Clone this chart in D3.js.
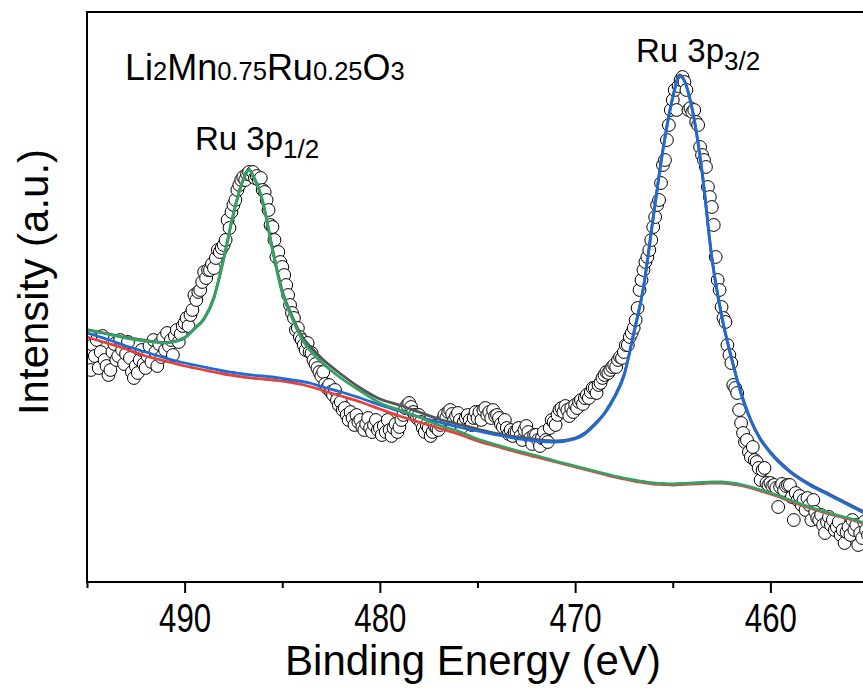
<!DOCTYPE html>
<html>
<head>
<meta charset="utf-8">
<script src="https://cdn.jsdelivr.net/npm/d3@7"></script>
<style>
    body { margin: 0; background: #fff; }
    svg { display: block; font-family: Arial, "Liberation Sans", sans-serif; }
</style>
</head>
<body>
<svg id="chart"></svg>
<script>
// Ru 3p scan, 495 -> 455 eV in 0.1 eV steps
const scanStart = 495.0;
const scanStep = 0.1;
const counts = [
    232, 220, 212, 237, 226, 242, 214, 230, 246, 222,
    216, 207, 212, 230, 238, 222, 226, 242, 232, 218,
    228, 240, 224, 210, 204, 216, 209, 222, 232, 218,
    214, 226, 236, 220, 242, 230, 216, 238, 225, 244,
    232, 249, 236, 242, 227, 246, 252, 240, 248, 256,
    259, 264, 256, 267, 272, 287, 282, 290, 292, 300,
    310, 304, 312, 312, 318, 314, 324, 332, 330, 334,
    337, 342, 362, 354, 370, 377, 382, 392, 397, 402,
    405, 402, 408, 410, 407, 410, 404, 406, 402, 404,
    392, 390, 382, 372, 357, 355, 342, 325, 330, 320,
    315, 307, 297, 287, 277, 269, 264, 252, 254, 245,
    242, 237, 232, 239, 230, 229, 222, 218, 214, 210,
    206, 210, 198, 194, 197, 190, 187, 192, 182, 177,
    180, 172, 174, 167, 162, 170, 164, 157, 167, 160,
    162, 155, 152, 158, 164, 154, 150, 157, 162, 152,
    154, 147, 156, 150, 162, 152, 146, 154, 158, 150,
    155, 162, 167, 174, 177, 179, 175, 170, 167, 164,
    167, 160, 154, 150, 157, 154, 146, 150, 156, 154,
    152, 157, 162, 167, 164, 170, 172, 168, 162, 166,
    169, 162, 155, 160, 164, 167, 162, 157, 164, 170,
    164, 170, 162, 172, 174, 167, 170, 164, 172, 166,
    167, 164, 158, 155, 162, 154, 148, 152, 146, 150,
    150, 154, 146, 142, 152, 156, 150, 144, 138, 147,
    147, 142, 136, 144, 150, 142, 140, 154, 162, 160,
    157, 167, 172, 174, 170, 176, 172, 166, 174, 170,
    177, 174, 180, 182, 178, 184, 187, 184, 190, 194,
    194, 189, 197, 199, 204, 207, 210, 209, 212, 215,
    217, 215, 222, 225, 224, 230, 237, 237, 245, 249,
    254, 262, 274, 292, 302, 312, 320, 325, 332, 342,
    355, 365, 377, 382, 399, 417, 422, 442, 457, 472,
    482, 492, 472, 496, 502, 505, 500, 492, 472, 474,
    470, 472, 460, 457, 435, 427, 422, 415, 395, 385,
    375, 357, 325, 302, 292, 275, 264, 260, 237, 227,
    219, 197, 194, 189, 172, 159, 149, 140, 142, 130,
    125, 135, 122, 120, 114, 102, 112, 114, 99, 97,
    99, 96, 97, 94, 75, 95, 98, 92, 96, 97,
    97, 85, 62, 89, 82, 86, 77, 82, 72, 84,
    77, 62, 82, 70, 64, 62, 67, 57, 49, 60,
    65, 57, 62, 52, 55, 60, 47, 52, 39, 50,
    55, 47, 62, 52, 57, 37, 49, 44, 60, 52,
    47
];

// fitted curves, read at these energies
const fitEnergy = [
    495, 494, 493, 492, 491, 490, 489.5, 489, 488.5, 488, 487.5, 487,
    486.7, 486.5, 486, 485.5, 485, 484.5, 484, 483.5, 483,
    482, 481, 480, 479, 478, 477, 476, 475, 474, 473, 472, 471, 470,
    469.5, 469, 468.5, 468, 467.5, 467, 466.5, 466, 465.5, 465,
    464.65, 464.5, 464, 463.5, 463, 462.5, 462, 461.5, 461, 460.5, 460,
    459, 458, 457, 456, 455
];
const background = [
    245, 239, 233, 226, 221, 216, 214, 212, 210, 208, 206.5, 205,
    204.3, 203.8, 203, 202, 201, 199.5, 197.5, 195, 192,
    186, 180, 173, 166, 160, 154, 148, 141, 135.5, 130, 125, 120, 115,
    112.5, 110, 107.5, 105, 103, 101, 99.5, 98, 97.5, 97,
    97.5, 97.5, 98, 98.5, 99, 99, 98, 96.5, 94, 91, 88,
    81, 74, 68, 63, 57
];
const fit3p32 = [
    249, 243, 236, 230, 224, 219, 217, 215, 213, 211, 209.5, 208,
    207.3, 206.8, 206, 205, 203.5, 202, 200.5, 198.5, 195.5,
    190, 184, 177, 171, 165, 160, 155, 151, 147, 143.5, 141, 140, 143,
    148, 157, 168, 184, 206, 248, 294, 364, 432, 484,
    506, 504, 472, 410, 324, 266, 224, 188, 161, 142, 129,
    110, 97, 87, 77, 67
];
const fit3p12 = [
    252, 248, 244, 241, 239, 244, 253, 263, 284, 323, 368, 402,
    412, 406, 380, 332, 289, 264, 243, 230, 220,
    204, 191, 179, 172, 165, 157, 151, 143, 137, 131.5, 126.5, 121, 116,
    113.5, 111, 108.5, 106, 104, 102, 100.5, 99, 98.5, 98,
    98.5, 98.5, 99, 99.5, 100, 100, 99, 97.5, 95, 92, 89,
    82, 75, 69, 64, 58
];
const envelope = [
    252.5, 248.5, 244.5, 241.5, 239.5, 244.5, 253.5, 263.5, 284.5, 323.5, 368.5, 402.5,
    412.5, 406.5, 380.5, 333, 291, 266, 246, 234, 224,
    208, 194, 183, 177, 170, 163, 158, 153, 148.5, 145, 142.5, 141, 144,
    149, 158, 169, 185, 207, 249, 295, 365, 433, 485,
    507, 505, 473, 411, 325, 267, 225, 189, 162, 143, 130,
    111, 98, 88, 78, 68
];

const xTicks = [490, 480, 470, 460];
const xMinorTicks = [495, 485, 475, 465, 455];

class SpectrumChart {
    constructor(id, width, height) {
        this.width = width;
        this.height = height;
        this.left = 87;
        this.top = 12;
        this.right = 868;
        this.bottom = 582;
        this.svg = d3.select(id).attr("width", width).attr("height", height);

        this.xScale = d3.scaleLinear()
            .domain([495, 455])
            .range([this.left, this.right]);

        this.yScale = d3.scaleLinear()
            .domain([0, 570])
            .range([this.bottom, this.top]);
    }

    drawPoints() {
        const points = counts.map((c, i) => ({e: scanStart - i * scanStep, c: c}));
        this.plot.append("g")
            .selectAll("circle")
            .data(points).enter()
            .append("circle")
            .attr("cx", d => this.xScale(d.e))
            .attr("cy", d => this.yScale(d.c))
            .attr("r", 6.4)
            .attr("fill", "#fff")
            .attr("stroke", "#000")
            .attr("stroke-width", 1);
    }

    drawCurve(values, color) {
        const line = d3.line()
            .x((d, i) => this.xScale(fitEnergy[i]))
            .y(d => this.yScale(d))
            .curve(d3.curveMonotoneX);
        this.plot.append("path")
            .attr("d", line(values))
            .attr("fill", "none")
            .attr("stroke", color)
            .attr("stroke-width", 2.8);
    }

    drawAxes() {
        const major = d3.axisBottom(this.xScale)
            .tickValues(xTicks)
            .tickSize(11)
            .tickPadding(11)
            .tickFormat(d3.format("d"));
        const minor = d3.axisBottom(this.xScale)
            .tickValues(xMinorTicks)
            .tickSize(6)
            .tickFormat("");

        const gMinor = this.svg.append("g")
            .attr("transform", `translate(0,${this.bottom})`)
            .call(minor);
        const gMajor = this.svg.append("g")
            .attr("transform", `translate(0,${this.bottom})`)
            .call(major);
        [gMinor, gMajor].forEach(g => {
            g.select(".domain").remove();
            g.selectAll("line").attr("stroke", "#000").attr("stroke-width", 2);
        });
        // tick numbers are drawn narrow in the original
        gMajor.selectAll("text")
            .attr("fill", "#000")
            .attr("font-size", "40px")
            .attr("font-family", "Arial, 'Liberation Sans', sans-serif")
            .attr("transform", "scale(0.78,1)");

        // frame
        this.svg.append("rect")
            .attr("x", this.left)
            .attr("y", this.top)
            .attr("width", this.right - this.left)
            .attr("height", this.bottom - this.top)
            .attr("fill", "none")
            .attr("stroke", "#000")
            .attr("stroke-width", 2);

        this.svg.append("text")
            .attr("x", 473)
            .attr("y", 675)
            .attr("text-anchor", "middle")
            .attr("font-size", "42px")
            .text("Binding Energy (eV)");

        this.svg.append("text")
            .attr("transform", "translate(48,282) rotate(-90)")
            .attr("text-anchor", "middle")
            .attr("font-size", "42px")
            .text("Intensity (a.u.)");
    }

    drawLabels() {
        const formula = this.svg.append("text")
            .attr("x", 125)
            .attr("y", 80)
            .attr("font-size", "36px");
        [["Li", 36], ["2", 25.5], ["Mn", 36], ["0.75", 25.5], ["Ru", 36], ["0.25", 25.5], ["O", 36], ["3", 25.5]]
            .forEach(p => formula.append("tspan").attr("font-size", p[1] + "px").text(p[0]));

        const peak = (x, y, sub) => {
            const t = this.svg.append("text")
                .attr("x", x)
                .attr("y", y)
                .attr("font-size", "33px");
            t.append("tspan").text("Ru 3p");
            t.append("tspan").attr("font-size", "26px").attr("dy", 8).text(sub);
        };
        peak(195, 150, "1/2");
        peak(636, 62, "3/2");
    }

    draw() {
        this.svg.append("clipPath")
            .attr("id", "plot-clip")
            .append("rect")
            .attr("x", this.left)
            .attr("y", this.top)
            .attr("width", this.right - this.left)
            .attr("height", this.bottom - this.top);
        this.plot = this.svg.append("g").attr("clip-path", "url(#plot-clip)");

        this.drawPoints();
        this.drawCurve(background, "#e8403c");
        this.drawCurve(envelope, "#555555");
        this.drawCurve(fit3p32, "#1f6bd6");
        this.drawCurve(fit3p12, "#35a265");
        this.drawAxes();
        this.drawLabels();
    }
}

new SpectrumChart("#chart", 863, 688).draw();
</script>
</body>
</html>
